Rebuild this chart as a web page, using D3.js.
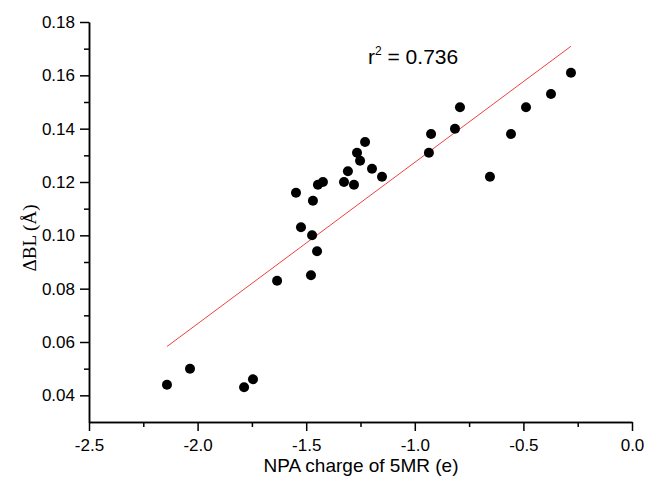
<!DOCTYPE html>
<html>
<head>
<meta charset="utf-8">
<script src="https://cdn.jsdelivr.net/npm/d3@7"></script>
<style>
  body { margin: 0; background: #fff; }
  svg { display: block; font-family: "Liberation Sans", Arial, sans-serif; }
  .axis path, .axis line { stroke: #000; stroke-width: 1.5; }
  .axis text { font-size: 17px; fill: #000; }
</style>
</head>
<body>
<svg width="651" height="479"></svg>
<script>
// NPA charge (x) and bond length change (y)
const charge = [-2.141, -2.035, -1.786, -1.745, -1.634, -1.547, -1.524, -1.478, -1.473, -1.469,
                -1.450, -1.446, -1.423, -1.326, -1.308, -1.280, -1.266, -1.252, -1.229, -1.197,
                -1.151, -0.935, -0.925, -0.815, -0.792, -0.654, -0.557, -0.488, -0.373, -0.281];
const dbl = [0.044, 0.050, 0.043, 0.046, 0.083, 0.116, 0.103, 0.085, 0.100, 0.113,
             0.094, 0.119, 0.120, 0.120, 0.124, 0.119, 0.131, 0.128, 0.135, 0.125,
             0.122, 0.131, 0.138, 0.140, 0.148, 0.122, 0.138, 0.148, 0.153, 0.161];

// linear fit endpoints
const fitX = [-2.141, -0.281];
const fitY = [0.0583, 0.1709];

const xTicks = [-2.5, -2.0, -1.5, -1.0, -0.5, 0.0];
const xMinor = [-2.25, -1.75, -1.25, -0.75, -0.25];
const yTicks = [0.04, 0.06, 0.08, 0.10, 0.12, 0.14, 0.16, 0.18];
const yMinor = [0.05, 0.07, 0.09, 0.11, 0.13, 0.15, 0.17];

const svg = d3.select("svg");

const x = d3.scaleLinear().domain([-2.5, 0]).range([89, 632]);
const y = d3.scaleLinear().domain([0.03, 0.18]).range([422, 22]);

// plain hyphen minus like the original
const fmtX = d => d3.format(".1f")(d).replace("\u2212", "-");

// minor ticks first so majors sit on top
svg.append("g")
    .attr("class", "axis")
    .attr("transform", "translate(0,422)")
    .call(d3.axisBottom(x).tickValues(xMinor).tickSize(5).tickFormat("").tickSizeOuter(0));

svg.append("g")
    .attr("class", "axis")
    .attr("transform", "translate(89,0)")
    .call(d3.axisLeft(y).tickValues(yMinor).tickSize(5).tickFormat("").tickSizeOuter(0));

svg.append("g")
    .attr("class", "axis")
    .attr("transform", "translate(0,422)")
    .call(d3.axisBottom(x).tickValues(xTicks).tickSize(9).tickSizeOuter(0).tickPadding(8).tickFormat(fmtX));

svg.append("g")
    .attr("class", "axis")
    .attr("transform", "translate(89,0)")
    .call(d3.axisLeft(y).tickValues(yTicks).tickSize(9).tickSizeOuter(0).tickPadding(5).tickFormat(d3.format(".2f")));

// fit line
svg.append("line")
    .attr("x1", x(fitX[0])).attr("y1", y(fitY[0]))
    .attr("x2", x(fitX[1])).attr("y2", y(fitY[1]))
    .attr("stroke", "#f04040")
    .attr("stroke-width", 1);

// points
svg.selectAll("circle")
    .data(charge.map((c, i) => ({c: c, v: dbl[i]})))
    .join("circle")
    .attr("cx", d => x(d.c))
    .attr("cy", d => y(d.v))
    .attr("r", 5)
    .attr("fill", "#000");

// r squared label
const r2 = svg.append("text")
    .attr("x", 368)
    .attr("y", 64)
    .attr("font-size", 21)
    .attr("fill", "#000");
r2.append("tspan").text("r");
r2.append("tspan").attr("font-size", 12).attr("dy", -9).text("2");
r2.append("tspan").attr("dy", 9).text(" = 0.736");

// axis titles
svg.append("text")
    .attr("x", 361)
    .attr("y", 472)
    .attr("text-anchor", "middle")
    .attr("font-size", 19)
    .text("NPA charge of 5MR (e)");

svg.append("text")
    .attr("transform", "translate(36,238) rotate(-90)")
    .attr("text-anchor", "middle")
    .attr("font-family", "'Liberation Serif', 'Times New Roman', serif")
    .attr("font-size", 19)
    .text("\u0394BL (\u00C5)");
</script>
</body>
</html>
